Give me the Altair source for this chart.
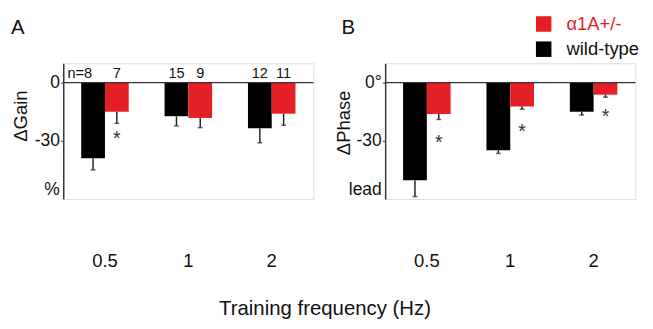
import altair as alt
import pandas as pd

FONT = "Liberation Sans"
RED = "#e41f25"

freqs = ["0.5", "1", "2"]
genotypes = ["wild-type", "α1A+/-"]
legend_order = ["α1A+/-", "wild-type"]

# Panel A: change in gain (%)
gain_wt = [-39.0, -17.3, -23.5]
gain_wt_err = [6.0, 5.0, 7.5]
gain_mut = [-15.0, -18.2, -16.0]
gain_mut_err = [6.0, 5.0, 6.0]
gain_n_wt = [8, 15, 12]
gain_n_mut = [7, 9, 11]
gain_star = [-26.5, None, None]

# Panel B: change in phase (deg, lead)
phase_wt = [-50.3, -34.8, -15.0]
phase_wt_err = [8.4, 1.7, 1.7]
phase_mut = [-16.2, -12.3, -6.2]
phase_mut_err = [2.8, 1.4, 1.3]
phase_star = [-28.6, -22.8, -15.3]

y_ticks = [0, -30, -55]


def build_df(wt, wt_err, mut, mut_err, n_wt=None, n_mut=None, star=None):
    rows = []
    for i, f in enumerate(freqs):
        rows.append(dict(freq=f, genotype="wild-type", mean=wt[i], low=wt[i] - wt_err[i],
                         n=(n_wt[i] if n_wt else None), star=None))
        rows.append(dict(freq=f, genotype="α1A+/-", mean=mut[i], low=mut[i] - mut_err[i],
                         n=(n_mut[i] if n_mut else None), star=(star[i] if star else None)))
    df = pd.DataFrame(rows)
    labels = []
    for r, v in enumerate(df["n"]):
        if v is None or v != v:
            labels.append("")
        elif r == 0:
            labels.append("n=" + str(int(v)))
        else:
            labels.append(str(int(v)))
    df["label"] = labels
    return df


def panel(df, title, title_dx, ytitle, tick_labels, ytitle_x, ytitle_y, legend):
    yscale = alt.Scale(domain=[-60, 10], nice=False, zero=False)
    yaxis = alt.Axis(
        values=y_ticks,
        labelExpr=f"datum.value == 0 ? '{tick_labels[0]}' : datum.value == -30 ? '{tick_labels[1]}' : '{tick_labels[2]}'",
        tickSize=3,
        tickOpacity={"condition": {"test": "datum.value == -55", "value": 0}, "value": 1},
        tickColor="#333",
        domainColor="#333",
        domainWidth=1.5,
        grid=False,
        labelFontSize=18,
        labelFont=FONT,
        labelColor="#111",
        labelPadding=1,
        titleFontSize=19,
        titleFont=FONT,
        titleFontWeight="normal",
        titleColor="#111",
        titleX=ytitle_x,
        titleY=ytitle_y,
        titleBaseline="middle",
        titleAngle=270,
    )
    x = alt.X("freq:N", sort=freqs,
              scale=alt.Scale(paddingInner=0.43, paddingOuter=0.215),
              axis=alt.Axis(title=None, domain=False, ticks=False, labelPadding=55,
                            labelFontSize=19, labelFont=FONT, labelAngle=0, labelColor="#111"))
    xo = alt.XOffset("genotype:N", sort=genotypes, scale=alt.Scale(paddingInner=0, paddingOuter=0))

    def Y(field):
        return alt.Y(field, scale=yscale, axis=yaxis, title=ytitle)

    base = alt.Chart(df)
    color = alt.Color("genotype:N",
                      scale=alt.Scale(domain=legend_order, range=[RED, "black"]),
                      legend=legend)
    bars = base.mark_bar().encode(x=x, xOffset=xo, y=Y("mean:Q"), color=color)
    err = base.mark_rule(color="#222", strokeWidth=1.5).encode(x=x, xOffset=xo, y=Y("mean:Q"), y2="low:Q")
    cap = base.mark_tick(color="#222", thickness=1.5, size=5).encode(x=x, xOffset=xo, y=Y("low:Q"))
    zero = alt.Chart(pd.DataFrame({"z": [0]})).mark_rule(color="#333", strokeWidth=1.2).encode(y=Y("z:Q"))
    stars = base.transform_filter("isValid(datum.star)").mark_text(
        text="*", fontSize=20, font=FONT, color="#333", baseline="alphabetic", dy=11
    ).encode(x=x, xOffset=xo, y=Y("star:Q"))
    head = alt.Chart(pd.DataFrame({"t": [title]})).mark_text(
        fontSize=21, font=FONT, color="#111", align="left", baseline="alphabetic"
    ).encode(text="t:N", x=alt.value(title_dx), y=alt.value(-30))
    layers = [bars, err, cap, zero, stars, head]
    if df["n"].notna().any():
        nb = base.transform_calculate(ny="5")
        first = nb.transform_filter("indexof(datum.label, 'n=') == 0").mark_text(
            fontSize=15, font=FONT, color="#111", align="right", baseline="middle", dx=-1
        ).encode(x=x, xOffset=xo, y=Y("ny:Q"), text="label:N")
        rest = nb.transform_filter("datum.label != '' && indexof(datum.label, 'n=') < 0").mark_text(
            fontSize=15, font=FONT, color="#111", align="center", baseline="middle"
        ).encode(x=x, xOffset=xo, y=Y("ny:Q"), text="label:N")
        layers += [first, rest]
    return alt.layer(*layers).properties(width=258, height=140)


df_a = build_df(gain_wt, gain_wt_err, gain_mut, gain_mut_err, gain_n_wt, gain_n_mut, gain_star)
df_b = build_df(phase_wt, phase_wt_err, phase_mut, phase_mut_err, star=phase_star)

legend_b = alt.Legend(
    title=None, orient="none", legendX=154, legendY=-50,
    symbolType="square", symbolSize=256, symbolStrokeWidth=0,
    labelFontSize=19, labelFont=FONT, labelOffset=14, rowPadding=6,
    labelColor={"expr": "datum.value == 'α1A+/-' ? '" + RED + "' : '#111'"},
)

pa = panel(df_a, "A", -54, "ΔGain", ["0", "-30", "%"], -44, 54, None)
pb = panel(df_b, "B", -45, "ΔPhase", ["0°", "-30", "lead"], -43, 61, legend_b)

chart = alt.hconcat(pa, pb, spacing=19).resolve_scale(color="independent").properties(
    title=alt.TitleParams("Training frequency (Hz)", orient="bottom", anchor="middle",
                          fontSize=21, fontWeight="normal", font=FONT, color="#111", offset=28),
    padding={"left": 2, "top": 1, "right": 5, "bottom": 2},
).configure_view(stroke=None).configure(font=FONT)

chart.save("out.html", embed_options={"renderer": "svg", "actions": False})
